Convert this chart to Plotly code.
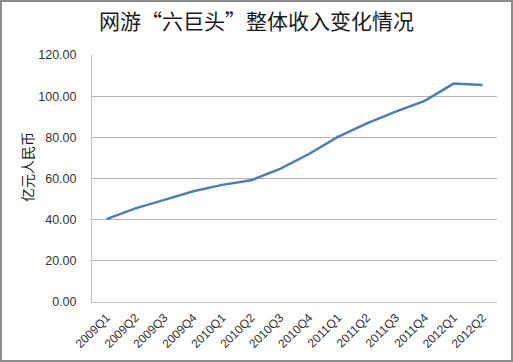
import plotly.graph_objects as go

categories = ["2009Q1", "2009Q2", "2009Q3", "2009Q4", "2010Q1", "2010Q2", "2010Q3",
              "2010Q4", "2011Q1", "2011Q2", "2011Q3", "2011Q4", "2012Q1", "2012Q2"]
revenue = [40.3, 45.5, 49.6, 53.8, 56.9, 59.1, 64.7, 71.9, 80.2, 86.8, 92.5, 97.7, 106.1, 105.4]
y_ticks = [0, 20, 40, 60, 80, 100, 120]

W, H = 513, 362
L, R, T, B = 92, 16, 55, 60
pw, ph = W - L - R, H - T - B

fig = go.Figure()
fig.add_trace(go.Scatter(
    x=categories, y=revenue, mode="lines",
    line=dict(color="#4A7EBB", width=2.5),
    showlegend=False, hoverinfo="x+y",
))

font_cjk = "Noto Sans CJK SC"

fig.update_layout(
    width=W, height=H,
    margin=dict(l=L, r=R, t=T, b=B),
    paper_bgcolor="white", plot_bgcolor="white",
    title=dict(text="网游“六巨头”整体收入变化情况", x=0.5, xanchor="center",
               y=1 - 22 / H, yanchor="middle",
               font=dict(family=font_cjk, size=21, color="#1a1a1a")),
    xaxis=dict(type="category", range=[-0.5, len(categories) - 0.5],
               tickangle=-45, showgrid=False, showline=True, linecolor="#BFBFBF",
               linewidth=1, ticks="", ticklabelstandoff=3,
               tickfont=dict(family="Liberation Sans", size=12, color="#333333"),
               zeroline=False),
    yaxis=dict(range=[0, 120], tickvals=y_ticks, tickformat=".2f",
               showgrid=True, gridcolor="#B3B3B3", gridwidth=1,
               showline=True, linecolor="#BFBFBF", linewidth=1, ticks="",
               ticklen=0, zeroline=False, ticklabelstandoff=12,
               tickfont=dict(family="Liberation Sans", size=12.5, color="#333333")),
)

fig.add_annotation(text="亿元人民币", xref="paper", yref="paper",
                   x=(27 - L) / pw, y=(H - B - 167) / ph,
                   xanchor="center", yanchor="middle", textangle=-90, showarrow=False,
                   font=dict(family=font_cjk, size=14, color="#1a1a1a"))

# outer chart border
fig.add_shape(type="rect", xref="paper", yref="paper",
              x0=(1 - L) / pw, x1=(W - 1 - L) / pw,
              y0=(H - T - B - (H - 1 - T)) / ph, y1=(H - B - 1) / ph,
              line=dict(color="#8C8C8C", width=2), fillcolor="rgba(0,0,0,0)", layer="above")

fig.write_html("out.html")
